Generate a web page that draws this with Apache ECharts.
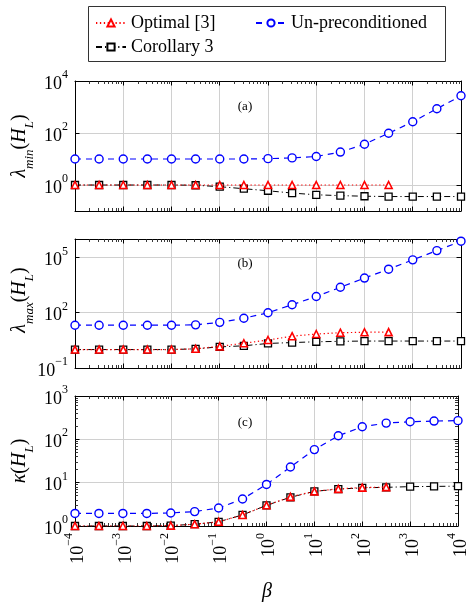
<!DOCTYPE html>
<html><head><meta charset="utf-8">
<script src="https://cdn.jsdelivr.net/npm/echarts@6/dist/echarts.min.js"></script>
<style>html,body{margin:0;padding:0;background:#fff}#c{width:470px;height:604px}</style>
</head><body><div id="c"></div>
<script>
// ---- data ----
const beta = [0.0001, 0.000316, 0.001, 0.00316, 0.01, 0.0316, 0.1, 0.316, 1, 3.16, 10, 31.6, 100, 316, 1000, 3162, 10000];
const nameOpt = 'Optimal [3]';
const nameUnp = 'Un-preconditioned';
const nameCor = 'Corollary 3';
// (a) lambda_min
const lamMinOptimal = [1, 1, 1, 1, 1, 1, 1, 1, 1, 1, 1, 1, 1, 1];
const lamMinUnprec = [10, 10, 10, 10, 10, 10, 10, 10, 10.3, 11, 12.5, 18.5, 37, 98, 270, 860, 2700];
const lamMinCorollary = [1, 1, 1, 1, 1, 0.98, 0.86, 0.72, 0.6, 0.49, 0.42, 0.39, 0.37, 0.36, 0.36, 0.36, 0.36];
// (b) lambda_max
const lamMaxOptimal = [1, 1, 1, 1, 1, 1.1, 1.5, 2.2, 3.3, 5.3, 7.0, 8.2, 8.7, 8.9];
const lamMaxUnprec = [21, 21, 21, 21, 21, 22, 30, 50, 100, 270, 760, 2400, 7600, 23000, 74000, 234000, 760000];
const lamMaxCorollary = [1, 1, 1, 1, 1, 1.1, 1.4, 1.6, 2.15, 2.4, 2.65, 2.8, 2.9, 2.9, 2.9, 2.9, 2.9];
// (c) kappa
const kappaOptimal = [1, 1, 1, 1, 1.02, 1.1, 1.25, 1.8, 3.0, 4.7, 6.3, 7.2, 7.7, 7.9];
const kappaUnprec = [1.95, 1.95, 1.95, 1.95, 2.0, 2.15, 2.6, 4.2, 9.1, 23, 58, 121, 195, 237, 255, 264, 270];
const kappaCorollary = [1, 1, 1, 1, 1.02, 1.1, 1.25, 1.8, 3.0, 4.6, 6.3, 7.1, 7.6, 7.8, 8.1, 8.2, 8.3];
// ticks
const xTicks = [1e-4, 1e-3, 1e-2, 1e-1, 1, 10, 100, 1000, 10000];
const yTicksA = [1, 100, 10000];
const yTicksB = [0.1, 100, 100000];
const yTicksC = [1, 10, 100, 1000];
const rangeA = [0.1, 10000];
const rangeB = [0.1, 1000000];
const rangeC = [1, 1000];
const panelLabels = ['(a)', '(b)', '(c)'];

// ---- helpers ----
function minorTicks(lo, hi) {
  const out = [];
  for (let e = Math.round(Math.log10(lo)); e < Math.round(Math.log10(hi)); e++) {
    for (let m = 2; m <= 9; m++) out.push(m * Math.pow(10, e));
  }
  return out;
}
const FONT = 'Liberation Serif';
const rich = {
  b: {fontFamily: FONT, fontSize: 18, color: '#000', lineHeight: 24, verticalAlign: 'bottom'},
  s: {fontFamily: FONT, fontSize: 12, color: '#000', lineHeight: 12, verticalAlign: 'top'}
};
function expLabel(v) {
  const e = Math.round(Math.log10(v));
  return '{b|10}{s|' + (e < 0 ? '\u2212' + (-e) : e) + '}';
}
const pairs = (vals) => vals.map((v, i) => [beta[i], v]);

const grids = [
  {left: 75, right: 9, top: 81, height: 130},
  {left: 75, right: 9, top: 239, height: 129},
  {left: 75, right: 9, top: 396, height: 130}
];
const yInfo = [
  {ticks: yTicksA, range: rangeA, minor: false},
  {ticks: yTicksB, range: rangeB, minor: false},
  {ticks: yTicksC, range: rangeC, minor: true}
];
const panelData = [
  [lamMinOptimal, lamMinUnprec, lamMinCorollary],
  [lamMaxOptimal, lamMaxUnprec, lamMaxCorollary],
  [kappaOptimal, kappaUnprec, kappaCorollary]
];

const xAxis = [], yAxis = [], series = [];
const xMinor = minorTicks(1e-4, 1e4);
const lineBlack = {color: '#000', width: 1};
const minorLine = {color: '#222', width: 0.9};
grids.forEach((g, gi) => {
  const xMain = xAxis.length;
  xAxis.push({gridIndex: gi, type: 'log', logBase: 10, min: 1e-4, max: 1e4, position: 'bottom',
    axisLine: {show: true, onZero: false, lineStyle: lineBlack},
    axisTick: {show: true, inside: true, length: 4.5, customValues: xTicks, lineStyle: lineBlack},
    axisLabel: {show: gi === 2, customValues: xTicks, rotate: 90, margin: 7, formatter: expLabel, rich: rich},
    splitLine: {show: true, lineStyle: {color: '#d0d0d0', width: 1}}
  });
  xAxis.push({gridIndex: gi, type: 'log', logBase: 10, min: 1e-4, max: 1e4, position: 'top',
    axisLine: {show: true, onZero: false, lineStyle: lineBlack},
    axisTick: {show: true, inside: true, length: 4.5, customValues: xTicks, lineStyle: lineBlack},
    axisLabel: {show: false}, splitLine: {show: false}
  });
  ['bottom', 'top'].forEach(pos => xAxis.push({gridIndex: gi, type: 'log', logBase: 10, min: 1e-4, max: 1e4, position: pos,
    axisLine: {show: false, onZero: false},
    axisTick: {show: true, inside: true, length: 3, customValues: xMinor, lineStyle: minorLine},
    axisLabel: {show: false}, splitLine: {show: false}
  }));
  const yi = yInfo[gi];
  const yMain = yAxis.length;
  yAxis.push({gridIndex: gi, type: 'log', logBase: 10, min: yi.range[0], max: yi.range[1], position: 'left',
    axisLine: {show: true, onZero: false, lineStyle: lineBlack},
    axisTick: {show: true, inside: true, length: 4.5, customValues: yi.ticks, lineStyle: lineBlack},
    axisLabel: {show: true, customValues: yi.ticks, margin: 7, formatter: expLabel, rich: rich},
    splitLine: {show: true, lineStyle: {color: '#d0d0d0', width: 1}}
  });
  yAxis.push({gridIndex: gi, type: 'log', logBase: 10, min: yi.range[0], max: yi.range[1], position: 'right',
    axisLine: {show: true, onZero: false, lineStyle: lineBlack},
    axisTick: {show: true, inside: true, length: 4.5, customValues: yi.ticks, lineStyle: lineBlack},
    axisLabel: {show: false}, splitLine: {show: false}
  });
  if (yi.minor) {
    const ym = minorTicks(yi.range[0], yi.range[1]);
    ['left', 'right'].forEach(pos => yAxis.push({gridIndex: gi, type: 'log', logBase: 10, min: yi.range[0], max: yi.range[1], position: pos,
      axisLine: {show: false, onZero: false},
      axisTick: {show: true, inside: true, length: 3, customValues: ym, lineStyle: minorLine},
      axisLabel: {show: false}, splitLine: {show: false}
    }));
  }
  const [opt, unp, cor] = panelData[gi];
  series.push({name: nameCor, type: 'line', xAxisIndex: xMain, yAxisIndex: yMain, data: pairs(cor),
    symbol: 'rect', symbolSize: 7, showAllSymbol: true,
    lineStyle: {color: '#000', width: 1, type: [6, 3, 1.2, 3]},
    itemStyle: {color: '#fff', borderColor: '#000', borderWidth: 1.3}, z: 2});
  series.push({name: nameOpt, type: 'line', xAxisIndex: xMain, yAxisIndex: yMain, data: pairs(opt),
    symbol: 'triangle', symbolSize: 7, showAllSymbol: true,
    lineStyle: {color: '#ff0000', width: 1.2, type: [1.3, 2.6]},
    itemStyle: {color: '#fff', borderColor: '#ff0000', borderWidth: 1.6}, z: 3});
  series.push({name: nameUnp, type: 'line', xAxisIndex: xMain, yAxisIndex: yMain, data: pairs(unp),
    symbol: 'circle', symbolSize: 8, showAllSymbol: true,
    lineStyle: {color: '#0000ff', width: 1.2, type: [6, 5]},
    itemStyle: {color: '#fff', borderColor: '#0000ff', borderWidth: 1.4}, z: 4});
});

const titleRich = {
  g: {fontFamily: FONT, fontStyle: 'italic', fontSize: 20, color: '#000'},
  sub: {fontFamily: FONT, fontStyle: 'italic', fontSize: 13, color: '#000', verticalAlign: 'bottom', lineHeight: 16, padding: [0, 0, -6, 0]},
  p: {fontFamily: FONT, fontSize: 20, color: '#000'}
};
function yTitle(text, cy) {
  return {type: 'text', x: 20, y: cy, rotation: Math.PI / 2,
    style: {text: text, rich: titleRich, align: 'center', verticalAlign: 'middle'}};
}
const graphic = [
  {type: 'rect', shape: {x: 88.5, y: 6.5, width: 357, height: 55}, style: {fill: 'none', stroke: '#333', lineWidth: 1}},
  yTitle('{g|λ}{sub|min}{p|(}{g|H}{sub|L}{p|)}', 146),
  yTitle('{g|λ}{sub|max}{p|(}{g|H}{sub|L}{p|)}', 300),
  yTitle('{g|κ}{p|(}{g|H}{sub|L}{p|)}', 461),
  {type: 'text', x: 267, y: 592, style: {text: 'β', fontFamily: FONT, fontStyle: 'italic', fontSize: 20, fill: '#000', align: 'center', verticalAlign: 'middle'}}
];
panelLabels.forEach((t, i) => {
  graphic.push({type: 'text', x: 245, y: [107, 264, 423][i],
    style: {text: t, fontFamily: FONT, fontSize: 13, fill: '#000', align: 'center', verticalAlign: 'middle'}});
});

const legendBase = {orient: 'vertical', itemWidth: 30, itemHeight: 9, itemGap: 4, padding: 0,
  textStyle: {fontFamily: FONT, fontSize: 18, color: '#000', lineHeight: 20}, selectedMode: false};
const option = {
  animation: false,
  backgroundColor: '#fff',
  grid: grids,
  xAxis: xAxis,
  yAxis: yAxis,
  legend: [
    Object.assign({}, legendBase, {left: 95, top: 13, data: [nameOpt, nameCor]}),
    Object.assign({}, legendBase, {left: 255, top: 13, data: [nameUnp]})
  ],
  graphic: graphic,
  series: series
};
const chart = echarts.init(document.getElementById('c'), null, {renderer: 'canvas'});
chart.setOption(option);
</script>
</body></html>
